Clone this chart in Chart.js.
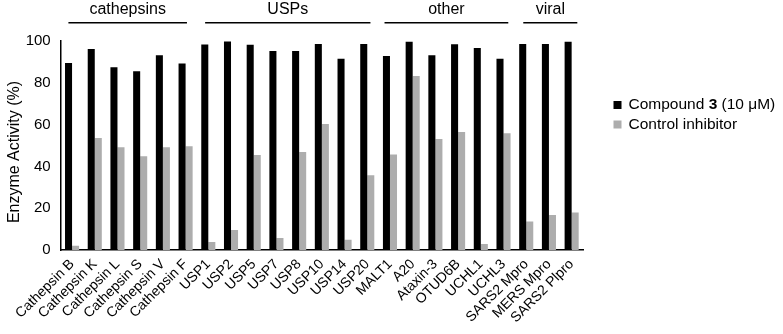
<!DOCTYPE html>
<html lang="en">
  <head>
    <meta charset="UTF-8" />
    <title>Enzyme activity</title>
    <script src="https://cdn.jsdelivr.net/npm/chart.js"></script>
    <style>
      body { margin: 0; background: #fff; }
      #wrap { width: 783px; height: 334px; }
    </style>
  </head>
  <body>
    <div id="wrap"><canvas id="myChart" width="783" height="334"></canvas></div>

    <script>
      const enzymes = [
        "Cathepsin B", "Cathepsin K", "Cathepsin L", "Cathepsin S", "Cathepsin V", "Cathepsin F",
        "USP1", "USP2", "USP5", "USP7", "USP8", "USP10", "USP14", "USP20",
        "MALT1", "A20", "Ataxin-3", "OTUD6B", "UCHL1", "UCHL3",
        "SARS2 Mpro", "MERS Mpro", "SARS2 Plpro",
      ];
      const compound3 = [
        89.5, 96.2, 87.5, 85.5, 93.2, 89.2,
        98.3, 99.8, 98.2, 95.2, 95.2, 98.6, 91.5, 98.6,
        92.8, 99.7, 93.2, 98.5, 96.6, 91.5,
        98.6, 98.6, 99.7,
      ];
      const controlInhibitor = [
        2.0, 53.6, 49.2, 44.9, 49.2, 49.6,
        3.8, 9.6, 45.4, 5.8, 46.9, 60.3, 4.9, 35.8,
        45.7, 83.2, 53.1, 56.4, 2.9, 55.9,
        13.6, 16.7, 17.9,
      ];
      const yTicks = [0, 20, 40, 60, 80, 100];
      // enzyme families; spans in category units (the lines are hand drawn in the original)
      const groups = [
        { name: "cathepsins", from: -0.16, to: 5.06 },
        { name: "USPs", from: 5.86, to: 13.14 },
        { name: "other", from: 13.76, to: 19.21 },
        { name: "viral", from: 19.87, to: 22.25 },
      ];

      const FONT = "'Liberation Sans', Arial, sans-serif";

      const groupPlugin = {
        id: "groups",
        afterDraw(chart) {
          const ctx = chart.ctx;
          const x = chart.scales.x;
          ctx.save();
          ctx.strokeStyle = "#000";
          ctx.lineWidth = 1.6;
          ctx.fillStyle = "#000";
          ctx.font = "16px " + FONT;
          ctx.textAlign = "center";
          ctx.textBaseline = "alphabetic";
          groups.forEach((g) => {
            const x1 = x.getPixelForValue(g.from);
            const x2 = x.getPixelForValue(g.to);
            ctx.beginPath();
            ctx.moveTo(x1, 22.7);
            ctx.lineTo(x2, 22.7);
            ctx.stroke();
            ctx.fillText(g.name, (x1 + x2) / 2, 13.5);
          });

          // y axis title, sits a little below the middle in the original
          ctx.save();
          ctx.translate(15, 152);
          ctx.rotate(-Math.PI / 2);
          ctx.textBaseline = "middle";
          ctx.fillText("Enzyme Activity (%)", 0, 0);
          ctx.restore();
          ctx.restore();
        },
      };

      const legendPlugin = {
        id: "sideLegend",
        afterDraw(chart) {
          const ctx = chart.ctx;
          const left = chart.chartArea.right + 30.5;
          ctx.save();
          ctx.textBaseline = "middle";
          chart.data.datasets.forEach((ds, i) => {
            const y = 105 + i * 19.5;
            ctx.fillStyle = ds.backgroundColor;
            ctx.fillRect(left, y - 4, 8, 8);
            ctx.fillStyle = "#000";
            let tx = left + 15;
            ds.labelParts.forEach((p) => {
              ctx.font = (p.bold ? "bold " : "") + "15.5px " + FONT;
              ctx.fillText(p.text, tx, y);
              tx += ctx.measureText(p.text).width;
            });
          });
          ctx.restore();
        },
      };

      new Chart(document.getElementById("myChart"), {
        type: "bar",
        data: {
          labels: enzymes,
          datasets: [
            {
              label: "Compound 3 (10 μM)",
              labelParts: [{ text: "Compound " }, { text: "3", bold: true }, { text: " (10 μM)" }],
              data: compound3,
              backgroundColor: "#000000",
            },
            {
              label: "Control inhibitor",
              labelParts: [{ text: "Control inhibitor" }],
              data: controlInhibitor,
              backgroundColor: "#adadad",
            },
          ],
        },
        options: {
          responsive: false,
          animation: false,
          categoryPercentage: 0.62,
          barPercentage: 1.0,
          layout: { padding: { left: 0, right: 200, top: 41, bottom: 0 } },
          plugins: {
            legend: { display: false },
            tooltip: { enabled: false },
          },
          scales: {
            x: {
              afterFit(scale) {
                scale.height = 84;
              },
              grid: { display: false, drawTicks: false },
              border: { display: true, color: "#000", width: 1.5 },
              ticks: {
                color: "#000",
                font: { family: FONT, size: 14 },
                minRotation: 45,
                maxRotation: 45,
                autoSkip: false,
                padding: 6,
              },
            },
            y: {
              min: 0,
              max: 100,
              afterBuildTicks(axis) {
                axis.ticks = yTicks.map((v) => ({ value: v }));
              },
              afterFit(scale) {
                scale.width = 60.7;
              },
              grid: { display: false, drawOnChartArea: false, drawTicks: true, tickLength: 3, color: "#000" },
              border: { display: true, color: "#000", width: 1.5 },
              ticks: {
                color: "#000",
                font: { family: FONT, size: 15 },
                padding: 7,
              },
            },
          },
        },
        plugins: [groupPlugin, legendPlugin],
      });
    </script>
  </body>
</html>
